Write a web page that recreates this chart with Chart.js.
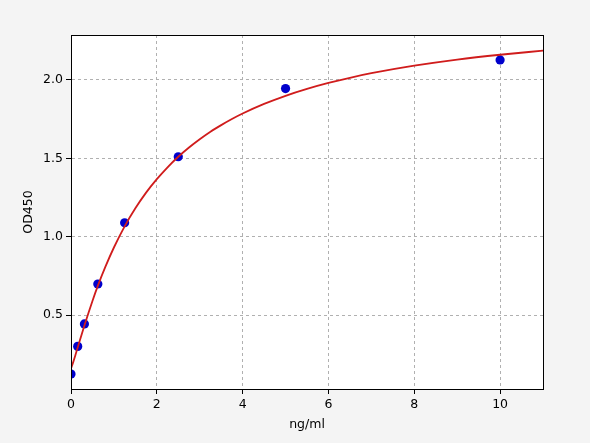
<!DOCTYPE html>
<html>
<head>
<meta charset="utf-8">
<script src="https://cdn.jsdelivr.net/npm/chart.js@4.4.1/dist/chart.umd.min.js"></script>
<style>
  html, body { margin: 0; padding: 0; background: #f4f4f4; }
  #wrap { width: 590px; height: 443px; position: relative; }
</style>
</head>
<body>
<div id="wrap"><canvas id="c" width="590" height="443"></canvas></div>
<script>
// Measured standards (ng/ml vs OD450)
const concentrations = [0, 0.156, 0.3125, 0.625, 1.25, 2.5, 5, 10];
const odValues = [0.123, 0.30, 0.443, 0.698, 1.089, 1.51, 1.945, 2.128];

// Fitted curve
const curveX = [0, 0.05, 0.1, 0.156, 0.3125, 0.5, 0.625, 0.8, 1, 1.25, 1.5, 1.75, 2, 2.25, 2.5, 2.75, 3, 3.25, 3.5, 3.75, 4, 4.5, 5, 5.5, 6, 6.5, 7, 8, 9, 10, 11];
const curveY = [0.160, 0.198, 0.242, 0.293, 0.433, 0.590, 0.686, 0.807, 0.931, 1.066, 1.181, 1.281, 1.367, 1.443, 1.510, 1.569, 1.622, 1.670, 1.712, 1.751, 1.786, 1.847, 1.899, 1.943, 1.981, 2.014, 2.043, 2.091, 2.130, 2.161, 2.187];

const xTicks = [0, 2, 4, 6, 8, 10];
const yTicks = [0.5, 1.0, 1.5, 2.0];

const xTitle = 'ng/ml';
const yTitle = 'OD450';

const FONT = { family: 'DejaVu Sans', size: 12.5 };

const framePlugin = {
  id: 'frame',
  beforeDraw(chart) {
    const { ctx, chartArea: a } = chart;
    ctx.save();
    ctx.fillStyle = '#ffffff';
    ctx.fillRect(a.left, a.top, a.right - a.left, a.bottom - a.top);
    ctx.restore();
  },
  afterDraw(chart) {
    const { ctx, chartArea: a } = chart;
    ctx.save();
    ctx.strokeStyle = '#000000';
    ctx.lineWidth = 1;
    ctx.strokeRect(Math.round(a.left) + 0.5, Math.round(a.top) + 0.5,
                   Math.round(a.right - a.left), Math.round(a.bottom - a.top));
    ctx.restore();
  }
};

const gridOpts = {
  color: '#b0b0b0',
  tickColor: '#000',
  tickLength: 5,
  tickBorderDash: [],
  lineWidth: 1
};

new Chart(document.getElementById('c'), {
  type: 'scatter',
  data: {
    datasets: [
      {
        type: 'line',
        label: 'fit',
        data: curveX.map((x, i) => ({ x, y: curveY[i] })),
        borderColor: '#d01c1c',
        borderWidth: 1.8,
        pointRadius: 0,
        fill: false,
        cubicInterpolationMode: 'monotone',
        order: 0
      },
      {
        label: 'standards',
        data: concentrations.map((x, i) => ({ x, y: odValues[i] })),
        backgroundColor: '#0000cc',
        borderColor: '#0000cc',
        borderWidth: 0,
        pointRadius: 4.6,
        order: 1
      }
    ]
  },
  options: {
    responsive: false,
    animation: false,
    devicePixelRatio: 1,
    layout: { padding: { left: 0, top: 35, right: 47, bottom: 0 } },
    plugins: { legend: { display: false }, tooltip: { enabled: false } },
    scales: {
      x: {
        type: 'linear',
        min: 0,
        max: 11,
        afterBuildTicks(scale) { scale.ticks = xTicks.map(v => ({ value: v })); },
        afterFit(scale) { scale.height = 54; },
        ticks: {
          color: '#000', font: FONT, padding: 3,
          maxRotation: 0,
          callback: v => String(v)
        },
        grid: gridOpts,
        border: { display: true, color: '#000', width: 1, dash: [3, 3] },
        title: {
          display: true, text: xTitle, color: '#000', font: FONT,
          padding: { top: 11, bottom: 11 }
        }
      },
      y: {
        type: 'linear',
        min: 0.028,
        max: 2.287,
        afterBuildTicks(scale) { scale.ticks = yTicks.map(v => ({ value: v })); },
        afterFit(scale) { scale.width = 71; },
        ticks: {
          color: '#000', font: FONT, padding: 3,
          callback: v => Number(v).toFixed(1)
        },
        grid: gridOpts,
        border: { display: true, color: '#000', width: 1, dash: [3, 3] },
        title: {
          display: true, text: yTitle, color: '#000', font: FONT,
          padding: { top: 21, bottom: 21 }
        }
      }
    }
  },
  plugins: [framePlugin]
});
</script>
</body>
</html>
